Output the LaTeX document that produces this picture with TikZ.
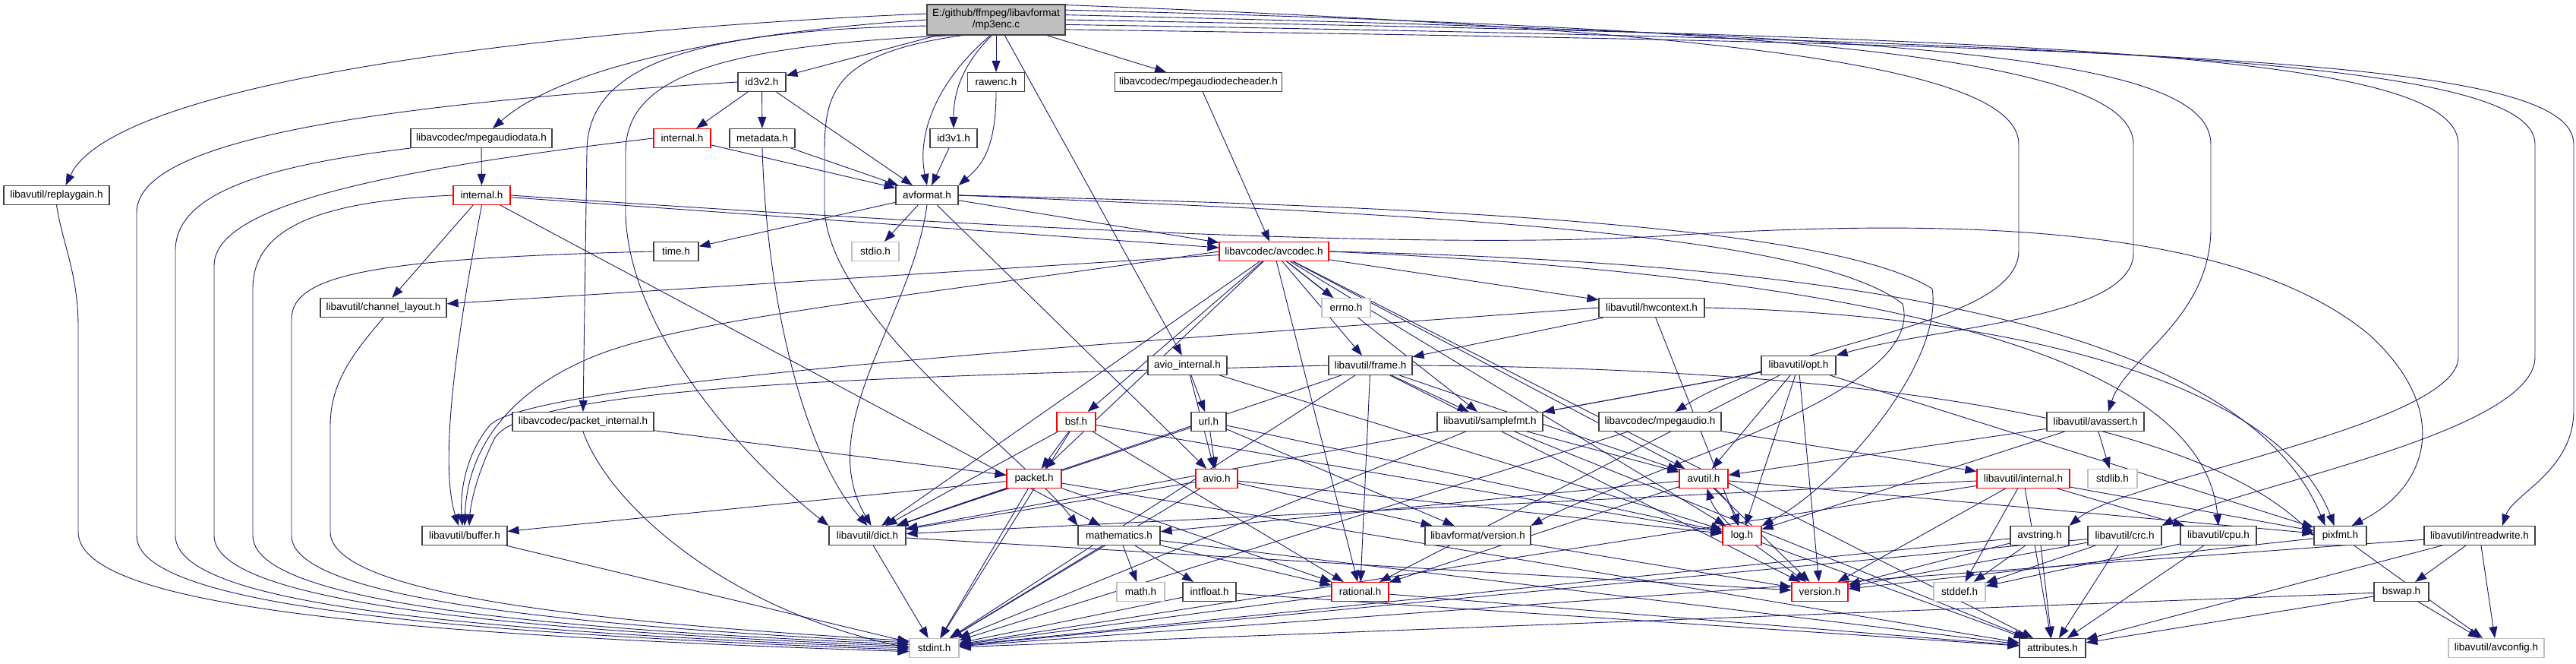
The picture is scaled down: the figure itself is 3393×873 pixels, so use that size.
\documentclass[tikz,border=0pt]{standalone}
\usepackage{fontspec}
\setmainfont{Liberation Sans}
\usepackage{tikz}
\usetikzlibrary{arrows.meta}
\definecolor{Edge}{HTML}{191970}
\definecolor{Frame}{HTML}{404040}
\definecolor{Trunc}{HTML}{FF0000}
\definecolor{Sys}{HTML}{BFBFBF}
\definecolor{RootFill}{HTML}{BFBFBF}
\pgfdeclarelayer{wires}
\pgfsetlayers{wires,main}
\tikzset{
  hdr/.style={draw=Frame,line width=1.1pt,fill=white,minimum height=25pt,inner sep=0pt,
    font=\fontsize{13.5}{15}\selectfont},
  cut/.style={hdr,draw=Trunc},
  sys/.style={hdr,draw=Sys},
  dep/.style={Edge,line width=0.9pt,-{Triangle[length=15pt,width=11pt]}}
}

\begin{document}
\begin{tikzpicture}[x=1pt,y=-1pt]
  \useasboundingbox (0,0) rectangle (3393,873);
  % row A
  \node[hdr,fill=RootFill,align=center,minimum width=182pt,minimum height=40pt] (root) at (1312,26)
    {E:/github/ffmpeg/libavformat\\/mp3enc.c};
  % row B
  \node[hdr,minimum width=63pt] (idtwo) at (1003.5,108) {id3v2.h};
  \node[hdr,minimum width=75pt] (rawenc) at (1312,108) {rawenc.h};
  \node[hdr,minimum width=220pt] (decheader) at (1578.5,108) {libavcodec/mpegaudiodecheader.h};
  % row C
  \node[hdr,minimum width=186pt] (mpadata) at (634,182) {libavcodec/mpegaudiodata.h};
  \node[cut,minimum width=75pt] (lavfint) at (898.5,182) {internal.h};
  \node[hdr,minimum width=86pt] (metadata) at (1004,182) {metadata.h};
  \node[hdr,minimum width=62pt] (idone) at (1256,182) {id3v1.h};
  % row D
  \node[hdr,minimum width=139pt] (replaygain) at (74.5,257) {libavutil/replaygain.h};
  \node[cut,minimum width=75pt] (lavcint) at (634.5,257) {internal.h};
  \node[hdr,minimum width=82pt] (avformat) at (1221,257) {avformat.h};
  % row E
  \node[hdr,minimum width=59pt] (timeh) at (890.5,331) {time.h};
  \node[sys,minimum width=62pt] (stdioh) at (1153,331) {stdio.h};
  \node[cut,minimum width=144pt] (avcodec) at (1678,331) {libavcodec/avcodec.h};
  % row F
  \node[hdr,minimum width=166pt] (chlayout) at (505,405) {libavutil/channel\_layout.h};
  \node[sys,minimum width=64pt] (errnoh) at (1773,405) {errno.h};
  \node[hdr,minimum width=139pt] (hwctx) at (2175.5,405) {libavutil/hwcontext.h};
  % row G
  \node[hdr,minimum width=104pt] (aviointernal) at (1564,481) {avio\_internal.h};
  \node[hdr,minimum width=110pt] (frame) at (1805,481) {libavutil/frame.h};
  \node[hdr,minimum width=98pt] (opt) at (2369,481) {libavutil/opt.h};
  % row H
  \node[hdr,minimum width=186pt] (pktinternal) at (768,555) {libavcodec/packet\_internal.h};
  \node[cut,minimum width=51pt] (bsf) at (1417.5,555) {bsf.h};
  \node[hdr,minimum width=46pt] (url) at (1592,555) {url.h};
  \node[hdr,minimum width=139pt] (samplefmt) at (1962.5,555) {libavutil/samplefmt.h};
  \node[hdr,minimum width=161pt] (mpegaudio) at (2186.5,555) {libavcodec/mpegaudio.h};
  \node[hdr,minimum width=128pt] (avassert) at (2760,555) {libavutil/avassert.h};
  % row I
  \node[cut,minimum width=72pt] (packet) at (1362,630) {packet.h};
  \node[cut,minimum width=55pt] (avio) at (1602.5,630) {avio.h};
  \node[cut,minimum width=64pt] (avutil) at (2244,630) {avutil.h};
  \node[cut,minimum width=122pt] (luinternal) at (2665,630) {libavutil/internal.h};
  \node[sys,minimum width=65pt] (stdlibh) at (2782.5,630) {stdlib.h};
  % row J
  \node[hdr,minimum width=112pt] (buffer) at (612,705) {libavutil/buffer.h};
  \node[hdr,minimum width=101pt] (dict) at (1142.5,705) {libavutil/dict.h};
  \node[hdr,minimum width=108pt] (mathematics) at (1474,705) {mathematics.h};
  \node[hdr,minimum width=139pt] (lavfversion) at (1946.5,705) {libavformat/version.h};
  \node[cut,minimum width=51pt] (log) at (2294.5,705) {log.h};
  \node[hdr,minimum width=77pt] (avstring) at (2686.5,705) {avstring.h};
  \node[hdr,minimum width=97pt] (crc) at (2798.5,705) {libavutil/crc.h};
  \node[hdr,minimum width=100pt] (cpu) at (2922,705) {libavutil/cpu.h};
  \node[hdr,minimum width=69pt] (pixfmt) at (3082.5,705) {pixfmt.h};
  \node[hdr,minimum width=146pt] (intrw) at (3266,705) {libavutil/intreadwrite.h};
  % row K
  \node[sys,minimum width=63pt] (mathh) at (1502.5,779) {math.h};
  \node[hdr,minimum width=70pt] (intfloat) at (1593,779) {intfloat.h};
  \node[cut,minimum width=75pt] (rational) at (1791.5,779) {rational.h};
  \node[cut,minimum width=74pt] (version) at (2397,779) {version.h};
  \node[sys,minimum width=68pt] (stddefh) at (2581,779) {stddef.h};
  \node[hdr,minimum width=72pt] (bswap) at (3163,779) {bswap.h};
  % row L
  \node[sys,minimum width=65pt] (stdint) at (1230.5,853) {stdint.h};
  \node[hdr,minimum width=87pt] (attributes) at (2703.5,853) {attributes.h};
  \node[sys,minimum width=126pt] (avconfig) at (3288,853) {libavutil/avconfig.h};

  \begin{pgfonlayer}{wires}
  % plain includes
  \foreach \a/\b in {
    root/idtwo, root/rawenc, root/decheader, root/aviointernal,
    idtwo/lavfint, idtwo/metadata, idtwo/avformat, idone/avformat,
    mpadata/lavcint, lavfint/avformat, metadata/avformat,
    lavcint/avcodec, lavcint/chlayout, lavcint/mathematics, decheader/avcodec,
    avformat/timeh, avformat/stdioh, avformat/avcodec, avformat/avio,
    avcodec/chlayout, avcodec/errnoh, avcodec/hwctx, avcodec/frame, avcodec/samplefmt,
    avcodec/bsf, avcodec/packet, avcodec/dict, avcodec/rational, avcodec/avutil,
    avcodec/log, avcodec/attributes,
    hwctx/frame, hwctx/log,
    aviointernal/url, aviointernal/avio, aviointernal/log,
    frame/samplefmt, frame/rational, frame/dict, frame/avutil, frame/version, frame/stdint,
    opt/samplefmt, opt/dict, opt/log, opt/avutil, opt/rational, opt/version, opt/pixfmt,
    pktinternal/packet,
    bsf/packet, bsf/dict, bsf/rational, bsf/log, bsf/stdint,
    url/avio, url/dict, url/log, url/lavfversion,
    samplefmt/avutil, samplefmt/stdint, samplefmt/attributes,
    mpegaudio/luinternal, mpegaudio/stdint,
    avassert/stdlibh, avassert/avutil, avassert/log,
    packet/buffer, packet/dict, packet/stdint, packet/rational, packet/attributes,
    avio/dict, avio/stdint, avio/log, avio/lavfversion,
    avutil/rational, avutil/version, avutil/pixfmt, avutil/mathematics,
    luinternal/stddefh, luinternal/version, luinternal/stdint, luinternal/attributes,
    luinternal/cpu, luinternal/pixfmt, luinternal/dict,
    buffer/stdint, dict/stdint, dict/version,
    mathematics/mathh, mathematics/intfloat, mathematics/stdint, mathematics/rational,
    mathematics/attributes, lavfversion/version, log/attributes, log/version,
    avstring/stddefh, avstring/stdint, avstring/attributes, avstring/version,
    crc/stddefh, crc/stdint, crc/attributes, crc/version,
    cpu/attributes, cpu/stddefh, pixfmt/avconfig, pixfmt/version,
    intrw/bswap, intrw/avconfig, intrw/attributes, intrw/stdint,
    bswap/avconfig, bswap/stdint, bswap/attributes,
    intfloat/stdint, intfloat/attributes, rational/stdint, rational/attributes}
    \draw[dep] (\a) -- (\b);

  % routed edges from the root
  \draw[dep] (root.175) .. controls (700,40) and (150,110) .. ([xshift=12pt]replaygain.north);
  \draw[dep] (root.180) .. controls (1000,40) and (750,80) .. ([xshift=15pt]mpadata.north);
  \draw[dep] (root.185) .. controls (900,40) and (773,90) .. (773,200) -- (pktinternal.north);
  \draw[dep] (root.200) .. controls (950,60) and (824,100) .. (824,200) -- (824,283)
    .. controls (830,450) and (1000,620) .. (dict.north west);
  \draw[dep] (root.205) .. controls (1100,70) and (1086,120) .. (1086,200) -- (1086,277)
    .. controls (1095,420) and (1350,600) .. (mathematics.north west);
  \draw[dep] (root.250) .. controls (1230,110) and (1208,180) .. (avformat.north);
  \draw[dep] (root.255) .. controls (1262,90) and (1256,130) .. (idone.north);
  \draw[dep] (rawenc.south) .. controls (1312,200) and (1290,220) .. (avformat.north east);
  \draw[dep] (root.12) .. controls (2300,40) and (2659,90) .. (2659,190) -- (2659,330)
    .. controls (2659,430) and (2350,450) .. ([xshift=20pt]mpegaudio.north);
  \draw[dep] (root.8) .. controls (2400,38) and (2810,80) .. (2810,190) -- (2810,333)
    .. controls (2810,420) and (2550,430) .. (opt.north east);
  \draw[dep] (root.4) .. controls (2500,45) and (2912,70) .. (2912,190) -- (2912,300)
    .. controls (2912,420) and (2800,470) .. ([xshift=17pt]avassert.north);
  \draw[dep] (root.0) .. controls (2700,50) and (3238,70) .. (3238,190) -- (3238,470)
    .. controls (3238,560) and (2800,630) .. (avstring.north east);
  \draw[dep] (root.-4) .. controls (2800,55) and (3339,80) .. (3339,190) -- (3339,470)
    .. controls (3339,570) and (2950,640) .. (crc.north east);
  \draw[dep] (root.-8) .. controls (2900,60) and (3390,80) .. (3390,190) -- (3390,540)
    .. controls (3390,620) and (3310,650) .. ([xshift=30pt]intrw.north);

  % long routes
  \draw[dep] (metadata.south) .. controls (1010,400) and (1060,600) .. (dict.north);
  \draw[dep] (avformat.south) .. controls (1200,420) and (1070,560) .. ([xshift=5pt]dict.north);
  \draw[dep] (lavcint.south) .. controls (610,400) and (575,600) .. ([xshift=-8pt]buffer.north);
  \draw[dep] (avcodec.west) .. controls (1200,390) and (900,420) .. (780,470)
    .. controls (660,520) and (615,600) .. (buffer.north);
  \draw[dep] (hwctx.west) .. controls (1500,450) and (700,500) .. (645,560)
    .. controls (612,600) and (606,650) .. ([xshift=-3pt]buffer.north);
  \draw[dep] (frame.west) .. controls (1200,495) and (680,505) .. (650,580)
    .. controls (630,620) and (620,660) .. ([xshift=6pt]buffer.north);
  \draw[dep] (lavcint.east) .. controls (1300,300) and (1900,330) .. (2200,310)
    .. controls (2600,285) and (2950,300) .. (3120,440)
    .. controls (3230,540) and (3200,640) .. ([xshift=15pt]pixfmt.north);
  \draw[dep] (avformat.east) .. controls (1800,270) and (2400,290) .. (2545,380)
    .. controls (2560,480) and (2420,640) .. (log.north east);
  \draw[dep] (avformat.east) .. controls (1800,280) and (2380,300) .. (2506,400)
    .. controls (2540,520) and (2150,620) .. (lavfversion.north east);
  \draw[dep] (avcodec.east) .. controls (2400,345) and (2950,420) .. ([xshift=-20pt]pixfmt.north);
  \draw[dep] (avcodec.east) .. controls (2400,360) and (2900,450) .. (cpu.north);
  \draw[dep] (hwctx.east) .. controls (2700,415) and (3010,520) .. ([xshift=-8pt]pixfmt.north);
  \draw[dep] (frame.east) .. controls (2500,485) and (2900,560) .. (pixfmt.west);
  \draw[dep] (pktinternal.south) .. controls (800,660) and (950,800) .. (stdint.west);
  \draw[dep] (log) to[bend left=15] (avutil);
  \draw[dep] (avutil) to[bend left=15] (log);

  % left fan into stdint.h
  \draw[dep] (replaygain.south) .. controls (82,320) and (103,360) .. (103,430) -- (103,700)
    .. controls (103,800) and (520,835) .. (stdint.188);
  \draw[dep] (idtwo.west) .. controls (450,140) and (180,190) .. (180,280) -- (180,705)
    .. controls (180,795) and (560,832) .. (stdint.184);
  \draw[dep] (mpadata.south west) .. controls (330,220) and (231,260) .. (231,330) -- (231,705)
    .. controls (231,795) and (600,830) .. (stdint.180);
  \draw[dep] (lavfint.west) .. controls (450,230) and (282,280) .. (282,350) -- (282,705)
    .. controls (282,790) and (640,828) .. (stdint.176);
  \draw[dep] (lavcint.west) .. controls (420,265) and (333,300) .. (333,380) -- (333,705)
    .. controls (333,790) and (680,826) .. (stdint.172);
  \draw[dep] (timeh.west) .. controls (500,340) and (384,360) .. (384,420) -- (384,705)
    .. controls (384,785) and (720,822) .. (stdint.168);
  \draw[dep] (chlayout.south) .. controls (470,460) and (435,500) .. (435,560) -- (435,700)
    .. controls (435,780) and (760,818) .. (stdint.164);
  \end{pgfonlayer}
\end{tikzpicture}
\end{document}
